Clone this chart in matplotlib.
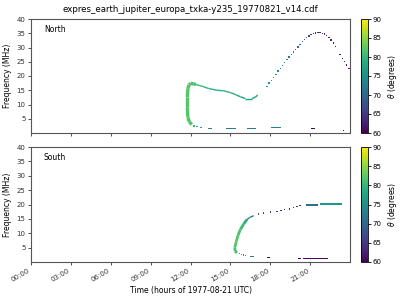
import matplotlib
matplotlib.use("Agg")
import matplotlib.pyplot as plt
import numpy as np
from matplotlib.collections import LineCollection
from matplotlib.colors import Normalize

# ---------------- data (time in hours of 1977-08-21, frequency in MHz, theta in degrees)
title = "expres_earth_jupiter_europa_txka-y235_19770821_v14.cdf"
xtick_vals = [0, 3, 6, 9, 12, 15, 18, 21]
xtick_labels = ["00:00", "03:00", "06:00", "09:00", "12:00", "15:00", "18:00", "21:00"]
ytick_vals = [5, 10, 15, 20, 25, 30, 35, 40]
cbar_ticks = [60, 65, 70, 75, 80, 85, 90]

# North: thick loop
north_loop_t = [12.10, 11.92, 11.80, 11.76, 11.76, 11.80, 11.88, 12.00, 12.20, 12.40]
north_loop_f = [3.0, 3.8, 5.5, 9.0, 12.5, 15.5, 16.9, 17.4, 17.3, 17.0]
north_loop_theta = [81, 82, 82, 82, 82, 82, 82, 82, 81, 81]
# North: thin upper branch
north_branch_t = [12.40, 12.88, 13.37, 14.00, 14.50, 15.00, 15.38, 15.75, 16.13, 16.63, 16.88, 17.05]
north_branch_f = [17.0, 16.4, 15.6, 15.0, 14.8, 14.2, 13.5, 12.7, 12.1, 12.1, 12.6, 13.3]
north_branch_theta = [81, 80, 79, 79, 79, 79, 78, 78, 77, 77, 76, 76]
# North: dotted points (lower tail and rising arc)
north_dot_t = [12.25, 12.50, 12.80,
               17.75, 17.92, 18.08, 18.25, 18.42, 18.58, 18.75, 18.92, 19.08, 19.25,
               19.42, 19.58, 19.75, 19.92, 20.08, 20.25, 20.42, 20.58, 20.75, 20.92,
               21.08, 21.25, 21.42, 21.58, 21.75, 21.92, 22.08, 22.25, 22.42, 22.58,
               22.75, 22.92, 23.25, 23.42, 23.58, 23.75, 23.92]
north_dot_f = [2.5, 2.2, 2.0,
               16.4, 17.5, 18.4, 19.5, 20.6, 21.7, 22.7, 23.7, 24.7, 25.7,
               26.6, 27.5, 28.4, 29.3, 30.2, 31.1, 32.0, 32.8, 33.5, 34.1,
               34.6, 34.9, 35.1, 35.2, 35.2, 35.0, 34.7, 34.2, 33.5, 32.6,
               31.6, 30.4, 27.5, 26.2, 25.0, 23.8, 22.6]
north_dot_theta = [80, 79, 77,
                   76, 76, 76, 75.5, 75, 75, 74, 74, 73.5, 73,
                   72.5, 72, 71.5, 71, 70.5, 70, 69, 68, 67, 66,
                   65, 64.5, 64, 64, 64, 63.5, 63.5, 63, 63, 63,
                   62.5, 62.5, 62.5, 62.5, 62, 62, 62]
# North: horizontal dashes near the bottom
north_dash_t0 = [13.35, 14.70, 16.25, 18.08, 21.08, 23.45]
north_dash_t1 = [13.65, 15.43, 16.95, 18.83, 21.38, 23.55]
north_dash_f = [1.5, 1.5, 1.5, 1.8, 1.5, 1.0]
north_dash_theta = [72, 72, 72, 73, 60.5, 60]

# South: thick band
south_band_t = [16.25, 16.00, 15.75, 15.58, 15.45, 15.33, 15.35, 15.50]
south_band_f = [14.8, 13.2, 11.3, 9.3, 7.2, 5.0, 3.8, 3.2]
south_band_theta = [78, 80, 81, 82, 82, 82, 81, 80]
# South: thin upper branch
south_branch_t = [16.25, 16.50, 16.75]
south_branch_f = [14.8, 15.6, 16.1]
south_branch_theta = [76, 73, 71]
# South: dotted points
south_dot_t = [15.68, 15.83, 16.00, 16.13,
               17.13, 17.50, 18.00, 18.50, 18.80, 19.08, 19.43, 19.75, 20.00, 20.25]
south_dot_f = [2.9, 2.7, 2.5, 2.3,
               16.7, 17.0, 17.4, 17.6, 17.9, 18.2, 18.5, 19.0, 19.3, 19.6]
south_dot_theta = [78, 77, 76, 75,
                   67, 66, 65, 65, 64.5, 64.5, 64, 64, 64, 64]
# South: horizontal dashes
south_dash_t0 = [16.50, 17.75, 20.08, 20.50, 20.70, 21.75]
south_dash_t1 = [16.75, 17.95, 20.33, 22.38, 21.58, 23.38]
south_dash_f = [1.9, 1.5, 1.2, 1.2, 19.8, 20.2]
south_dash_theta = [72, 60, 60, 60.5, 71, 76]

# ---------------- drawing
cmap = plt.get_cmap("viridis")
norm = Normalize(vmin=60, vmax=90)

W, H = 400, 300
fig = plt.figure(figsize=(4, 3), dpi=100)
ax_n = fig.add_axes([31 / W, 1 - 133 / H, 319 / W, 114 / H])
ax_s = fig.add_axes([31 / W, 1 - 262 / H, 319 / W, 115 / H])
cax_n = fig.add_axes([361 / W, 1 - 133 / H, 7 / W, 114 / H])
cax_s = fig.add_axes([361 / W, 1 - 262 / H, 7 / W, 115 / H])

spine_col = "#555555"


def add_line(ax, t, f, th, lw):
    pts = np.column_stack([t, f])
    segs = np.stack([pts[:-1], pts[1:]], axis=1)
    vals = (np.array(th[:-1]) + np.array(th[1:])) / 2
    lc = LineCollection(segs, cmap=cmap, norm=norm, linewidths=lw, capstyle="butt")
    lc.set_array(vals)
    ax.add_collection(lc)


def add_dashes(ax, t0, t1, f, th):
    t0 = np.array(t0); t1 = np.array(t1); f = np.array(f)
    ax.bar(t0, 0.4, width=t1 - t0, bottom=f - 0.2, align="edge",
           color=cmap(norm(np.array(th))), linewidth=0)


add_line(ax_n, north_loop_t, north_loop_f, north_loop_theta, 2.4)
add_line(ax_n, north_branch_t, north_branch_f, north_branch_theta, 1.0)
ax_n.scatter(north_dot_t, north_dot_f, c=north_dot_theta, cmap=cmap, norm=norm,
             marker="s", s=1.0, linewidths=0)
add_dashes(ax_n, north_dash_t0, north_dash_t1, north_dash_f, north_dash_theta)

add_line(ax_s, south_band_t, south_band_f, south_band_theta, 2.0)
add_line(ax_s, south_branch_t, south_branch_f, south_branch_theta, 1.0)
ax_s.scatter(south_dot_t, south_dot_f, c=south_dot_theta, cmap=cmap, norm=norm,
             marker="s", s=1.0, linewidths=0)
add_dashes(ax_s, south_dash_t0, south_dash_t1, south_dash_f, south_dash_theta)

for ax, name in [(ax_n, "North"), (ax_s, "South")]:
    ax.set_xlim(0, 24)
    ax.set_ylim(0, 40)
    ax.set_yticks(ytick_vals)
    ax.set_xticks(xtick_vals)
    ax.tick_params(labelsize=5, length=2.5, width=0.6, colors="#333333", pad=1.5)
    for sp in ax.spines.values():
        sp.set_color(spine_col)
        sp.set_linewidth(0.8)
    ax.set_ylabel("Frequency (MHz)", fontsize=5.5, labelpad=3)
    ax.text(0.04, 0.91, name, transform=ax.transAxes, fontsize=5.5, va="center", ha="left")

ax_n.set_xticklabels([])
ax_s.set_xticklabels(xtick_labels, rotation=30, ha="right")
ax_s.set_xlabel("Time (hours of 1977-08-21 UTC)", fontsize=5.5, labelpad=2)
ax_n.set_title(title, fontsize=6.2, pad=5)

sm = plt.cm.ScalarMappable(norm=norm, cmap=cmap)
for cax in (cax_n, cax_s):
    cb = fig.colorbar(sm, cax=cax, ticks=cbar_ticks)
    cb.ax.tick_params(labelsize=5, length=2, width=0.6, pad=1.5)
    cb.outline.set_linewidth(0.6)
    cb.set_label(r"$\theta$ (degrees)", fontsize=5.5, labelpad=3)

fig.savefig("out.png", dpi=100)
